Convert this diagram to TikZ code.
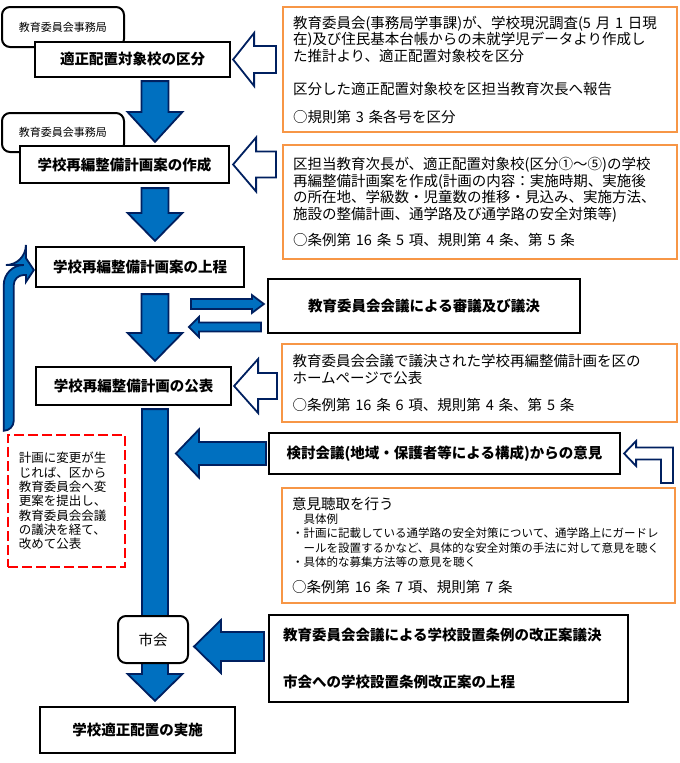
\documentclass[tikz,border=0pt]{standalone}
\usepackage{fontspec}
\setmainfont{Noto Sans CJK JP}
\usepackage{xcolor}
\usetikzlibrary{calc,backgrounds}

\definecolor{arrowblue}{HTML}{0070C0}
\definecolor{navy}{HTML}{002060}
\definecolor{noteorange}{HTML}{F79646}

% block arrow: [style]{start}{tip}{shaft half width}{head half width}{head length}
\newcommand{\blockarrow}[6][]{%
 \coordinate (ba-h) at ($(#3)!#6!(#2)$);
 \draw[#1] ($(#2)!#4!90:(#3)$) -- ($(ba-h)!#4!90:(#3)$) -- ($(ba-h)!#5!90:(#3)$) -- (#3)
 -- ($(ba-h)!#5!-90:(#3)$) -- ($(ba-h)!#4!-90:(#3)$) -- ($(#2)!#4!-90:(#3)$) -- cycle;
}

\begin{document}
\begin{tikzpicture}[
 x=1pt, y=-1pt,
 box/.style={rectangle, draw, line width=2.2pt, fill=white, inner sep=0pt, font=\fontsize{14.5}{16.7}\selectfont\bfseries},
 smallbox/.style={rectangle, draw, line width=2pt, fill=white, rounded corners=8pt, inner sep=0pt, font=\fontsize{11}{13}\selectfont},
 notebox/.style={rectangle, draw=noteorange, line width=2pt, fill=white, align=left, text width=374pt, inner xsep=10pt, inner ysep=0pt, font=\fontsize{14.5}{16.7}\selectfont},
 memobox/.style={rectangle, draw=red, dashed, dash pattern=on 10pt off 4pt, line width=2.5pt, fill=white, align=left, text width=95pt, inner xsep=11pt, inner ysep=0pt, font=\fontsize{12.5}{14.3}\selectfont},
 blkarrow/.style={draw=navy, fill=arrowblue, line width=1.8pt},
 hollowarrow/.style={draw=navy, fill=white, line width=1.8pt}
 ]
 \useasboundingbox (0,0) rectangle (680,763);

 % Left column
 \node[smallbox, minimum width=122pt, minimum height=40pt] (off1) at (63,27) {教育委員会事務局};
 \node[box, minimum width=195pt, minimum height=35pt] (sel) at (132.5,59.5) {適正配置対象校の区分};
 \node[smallbox, minimum width=122pt, minimum height=39pt] (off2) at (63,132.5) {教育委員会事務局};
 \node[box, minimum width=209pt, minimum height=37pt] (draft) at (124.5,164.5) {学校再編整備計画案の作成};
 \node[box, minimum width=208pt, minimum height=40pt] (submit) at (140,267) {学校再編整備計画案の上程};
 \node[box, minimum width=195pt, minimum height=38pt] (publish) at (133.5,386) {学校再編整備計画の公表};
 \node[smallbox, minimum width=70pt, minimum height=47pt, font=\fontsize{14.5}{16.7}\selectfont] (city) at (153,639.5) {市会};
 \node[box, minimum width=195pt, minimum height=46pt] (impl) at (137.5,730) {学校適正配置の実施};

 % Memo
 \node[memobox, minimum width=117pt, minimum height=132pt] (memo) at (66.5,501) {計画に変更が生\\じれば、区から\\教育委員会へ変\\更案を提出し、\\教育委員会会議\\の議決を経て、\\改めて公表};

 % Right column
 \node[notebox, minimum height=125pt] (note1) at (480,69.5) {教育委員会(事務局学事課)が、学校現況調査(5 月 1 日現\\在)及び住民基本台帳からの未就学児データより作成し\\た推計より、適正配置対象校を区分\\[16.6pt]区分した適正配置対象校を区担当教育次長へ報告\\[10.6pt]○規則第 3 条各号を区分};
 \node[notebox, minimum height=114pt] (note2) at (480,202) {区担当教育次長が、適正配置対象校(区分①～⑤)の学校\\再編整備計画案を作成(計画の内容：実施時期、実施後\\の所在地、学級数・児童数の推移・見込み、実施方法、\\施設の整備計画、通学路及び通学路の安全対策等)\\[9.3pt]○条例第 16 条 5 項、規則第 4 条、第 5 条};
 \node[box, minimum width=312pt, minimum height=54pt] (council) at (424,306) {教育委員会会議による審議及び議決};
 \node[notebox, minimum height=78pt, minimum width=395pt] (note3) at (479.5,383) {教育委員会会議で議決された学校再編整備計画を区の\\ホームページで公表\\[11pt]○条例第 16 条 6 項、規則第 4 条、第 5 条};
 \node[box, minimum width=351pt, minimum height=41pt] (review) at (444.5,453.5) {検討会議(地域・保護者等による構成)からの意見};
 \node[notebox, minimum height=115pt, text width=373pt] (note4) at (478.5,545.5) {意見聴取を行う\\[-2.7pt]\fontsize{11.5}{16.7}\selectfont\hspace*{11.5pt}具体例\\[-2.7pt]・計画に記載している通学路の安全対策について、通学路上にガードレ\\[-1.7pt]\hspace*{11.5pt}ールを設置するかなど、具体的な安全対策の手法に対して意見を聴く\\[-2.7pt]・具体的な募集方法等の意見を聴く\\[9.3pt]\fontsize{14.5}{16.7}\selectfont○条例第 16 条 7 項、規則第 7 条};
 \node[box, minimum width=359pt, minimum height=87pt, align=left, text width=331pt, inner xsep=14pt] (ordin) at (448.5,658.5) {教育委員会会議による学校設置条例の改正案議決\\[30.3pt]市会への学校設置条例改正案の上程};

 % Arrow end points
 \coordinate (axis) at (155,0);
 \coordinate (a1s) at ($(axis |- sel.south)+(0,3)$);
 \coordinate (a1t) at ($(axis |- draft.north)+(0,-3)$);
 \coordinate (a2s) at ($(axis |- draft.south)+(0,4)$);
 \coordinate (a2t) at ($(axis |- submit.north)+(0,-5)$);
 \coordinate (a3s) at ($(axis |- submit.south)+(0,6)$);
 \coordinate (a3t) at ($(axis |- publish.north)+(0,-5)$);
 \coordinate (a4s) at ($(axis |- publish.south)+(0,3)$);
 \coordinate (a4t) at ($(axis |- impl.north)+(0,-5)$);
 \coordinate (h1s) at ($(note1.west |- sel.east)+(-6,0)$);
 \coordinate (h1t) at ($(sel.east)+(2,0)$);
 \coordinate (h2s) at ($(note2.west |- draft.east)+(-6,0)$);
 \coordinate (h2t) at ($(draft.east)+(3,0)$);
 \coordinate (h3s) at ($(note3.west |- publish.east)+(-4,0)$);
 \coordinate (h3t) at ($(publish.east)+(2,0)$);
 \coordinate (c1s) at ($(council.west)+(-76,-2)$);
 \coordinate (c1t) at ($(council.west)+(-3,-2)$);
 \coordinate (c2s) at ($(council.west)+(-6,21)$);
 \coordinate (c2t) at ($(council.west)+(-78,21)$);
 \coordinate (rvs) at ($(review.west)+(-2,0)$);
 \coordinate (rvt) at ($(review.west)+(-92,0)$);
 \coordinate (ods) at ($(ordin.west |- city.east)+(-4,7)$);
 \coordinate (odt) at ($(city.east)+(5,7)$);
 \coordinate (fbs) at ($(memo.north west)+(2,-3)$);
 \coordinate (fbt) at ($(submit.west)+(-1,3)$);
 \coordinate (bns) at ($(note4.north east)+(-9,-4)$);
 \coordinate (bnt) at ($(review.east)+(3,0)$);

 \begin{scope}[on background layer]
 % Main flow
 \blockarrow[blkarrow]{a1s}{a1t}{13.5pt}{27.5pt}{30pt}
 \blockarrow[blkarrow]{a2s}{a2t}{13.5pt}{27.5pt}{28pt}
 \blockarrow[blkarrow]{a3s}{a3t}{13.5pt}{27.5pt}{28pt}
 \blockarrow[blkarrow]{a4s}{a4t}{13pt}{27.5pt}{27pt}

 % Side inputs
 \blockarrow[hollowarrow]{h1s}{h1t}{13.5pt}{26.5pt}{21pt}
 \blockarrow[hollowarrow]{h2s}{h2t}{13pt}{27pt}{23pt}
 \blockarrow[hollowarrow]{h3s}{h3t}{13pt}{27pt}{24pt}
 \blockarrow[blkarrow]{c1s}{c1t}{5pt}{9pt}{12pt}
 \blockarrow[blkarrow]{c2s}{c2t}{4.5pt}{10pt}{10pt}
 \blockarrow[blkarrow]{rvs}{rvt}{11.5pt}{24pt}{23pt}
 \blockarrow[blkarrow]{ods}{odt}{14.5pt}{26.5pt}{27pt}

 % Feedback and bent arrows
 \draw[blkarrow] ([xshift=-5pt]fbs) [rounded corners=20pt] |- ([xshift=-8pt,yshift=5pt]fbt) [sharp corners]
 -- ([xshift=-8pt,yshift=12pt]fbt) -- (fbt) -- ([xshift=-8pt,yshift=-12pt]fbt)
 -- ([xshift=-8pt,yshift=-5pt]fbt) [rounded corners=10pt] -| ([xshift=5pt]fbs) [sharp corners] -- cycle;
 \draw[hollowarrow] (bnt) -- ([xshift=12pt,yshift=12.5pt]bnt) -- ([xshift=12pt,yshift=6pt]bnt)
 -| ([xshift=6pt]bns) -- ([xshift=-6pt]bns) |- ([xshift=12pt,yshift=-6pt]bnt)
 -- ([xshift=12pt,yshift=-12.5pt]bnt) -- cycle;
 \end{scope}
\end{tikzpicture}
\end{document}
